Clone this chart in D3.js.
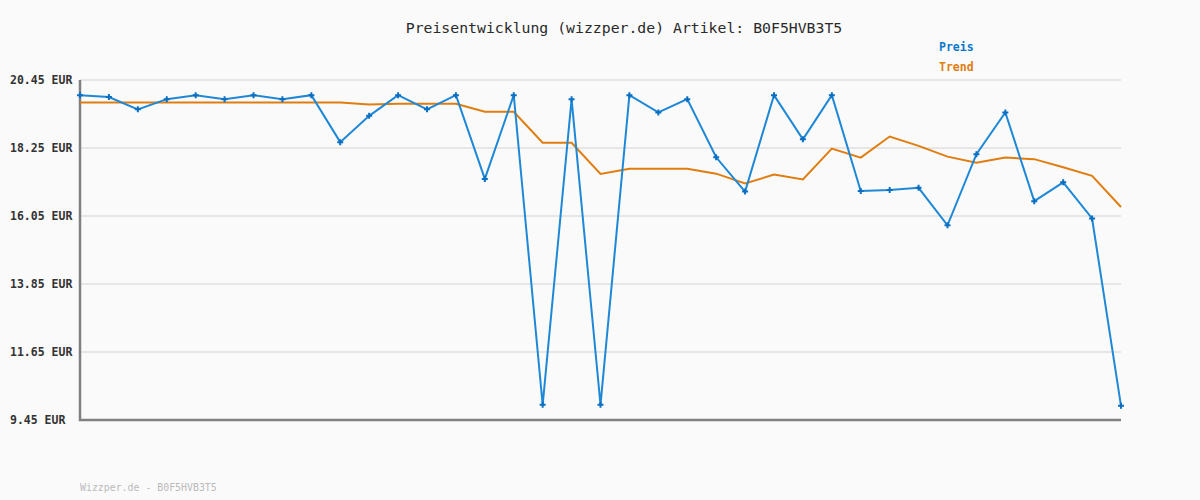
<!DOCTYPE html>
<html>
<head>
<meta charset="utf-8">
<script src="https://cdn.jsdelivr.net/npm/d3@7"></script>
<style>
  body { margin: 0; background: #fafafa; }
  svg { display: block; }
</style>
</head>
<body>
<div id="chart"></div>
<script>
const width = 1200;
const height = 500;

// Preis je Messpunkt (EUR)
const preis = [19.96, 19.90, 19.50, 19.83, 19.96, 19.83, 19.96, 19.83, 19.96, 18.44,
  19.29, 19.96, 19.50, 19.96, 17.25, 19.96, 9.94, 19.83, 9.94, 19.96,
  19.40, 19.83, 17.95, 16.84, 19.96, 18.53, 19.96, 16.86, 16.89, 16.96,
  15.75, 18.05, 19.40, 16.53, 17.14, 15.97, 9.91];
// Trend
const trend = [19.72, 19.72, 19.72, 19.72, 19.72, 19.72, 19.72, 19.72, 19.72, 19.72,
  19.66, 19.68, 19.68, 19.68, 19.42, 19.42, 18.42, 18.42, 17.41, 17.58,
  17.58, 17.58, 17.42, 17.10, 17.39, 17.23, 18.23, 17.94, 18.62, 18.32,
  17.97, 17.77, 17.94, 17.89, 17.63, 17.35, 16.34];
const yTicks = [9.45, 11.65, 13.85, 16.05, 18.25, 20.45];

const svg = d3.select('#chart').append('svg')
  .attr('width', width).attr('height', height)
  .style('font-family', '"DejaVu Sans Mono", "Liberation Mono", monospace');

svg.append('rect').attr('width', width).attr('height', height).attr('fill', '#fafafa');

const x = d3.scaleLinear().domain([0, preis.length - 1]).range([80, 1121]);
const y = d3.scaleLinear().domain([9.45, 20.45]).range([420, 80]);

// Gitterlinien
svg.append('g').selectAll('line')
  .data(yTicks.slice(1))
  .enter().append('line')
  .attr('x1', 80).attr('x2', 1121)
  .attr('y1', d => y(d)).attr('y2', d => y(d))
  .attr('stroke', '#e6e6e6').attr('stroke-width', 2);

// Achsenbeschriftung
svg.append('g').selectAll('text')
  .data(yTicks)
  .enter().append('text')
  .attr('x', 10)
  .attr('y', d => y(d) + 4)
  .text(d => d.toFixed(2) + ' EUR')
  .style('font-size', '11.5px')
  .attr('font-weight', 'bold')
  .attr('fill', '#333');

// Achsen
svg.append('path')
  .attr('d', `M80,${y(20.45)}V${y(9.45)}H1121`)
  .attr('fill', 'none')
  .attr('stroke', '#808080')
  .attr('stroke-width', 2.5);

const line = d3.line()
  .x((d, i) => x(i))
  .y(d => y(d));

svg.append('path').datum(trend)
  .attr('fill', 'none')
  .attr('stroke', '#e07d10')
  .attr('stroke-width', 2)
  .attr('d', line);

svg.append('path').datum(preis)
  .attr('fill', 'none')
  .attr('stroke', '#1f88d6')
  .attr('stroke-width', 2)
  .attr('d', line);

svg.append('g').selectAll('path')
  .data(preis)
  .enter().append('path')
  .attr('transform', (d, i) => 'translate(' + x(i) + ',' + y(d) + ')')
  .attr('d', d3.symbol().type(d3.symbolCross).size(20))
  .attr('fill', '#0a6fc2');

// Titel
svg.append('text')
  .attr('x', 624).attr('y', 33)
  .attr('text-anchor', 'middle')
  .text('Preisentwicklung (wizzper.de) Artikel: B0F5HVB3T5')
  .style('font-size', '14.8px')
  .attr('fill', '#2a2a2a');

// Legende
svg.append('text')
  .attr('x', 939).attr('y', 51)
  .text('Preis')
  .style('font-size', '11.5px')
  .attr('font-weight', 'bold')
  .attr('fill', '#0a78cc');

svg.append('text')
  .attr('x', 939).attr('y', 71)
  .text('Trend')
  .style('font-size', '11.5px')
  .attr('font-weight', 'bold')
  .attr('fill', '#e07d10');

// Fußzeile
svg.append('text')
  .attr('x', 80).attr('y', 491)
  .text('Wizzper.de - B0F5HVB3T5')
  .style('font-size', '9.9px')
  .attr('fill', '#bbbbbb');
</script>
</body>
</html>
